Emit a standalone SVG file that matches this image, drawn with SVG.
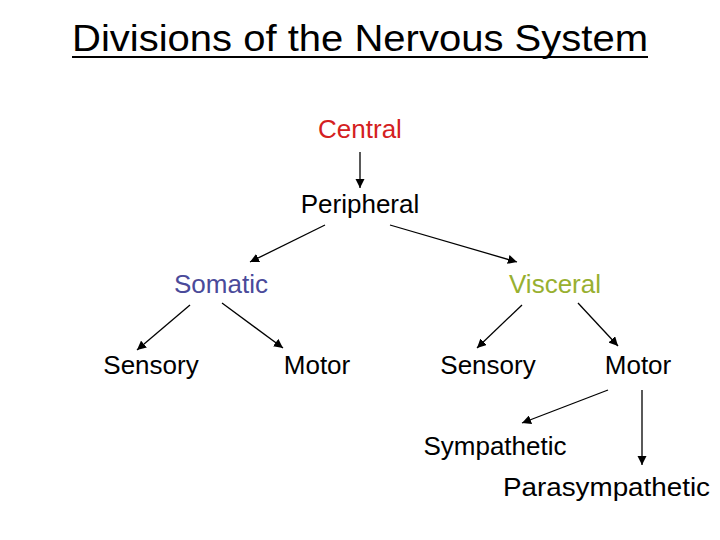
<svg xmlns="http://www.w3.org/2000/svg" width="720" height="540" viewBox="0 0 720 540">
<defs><marker id="a" viewBox="0 0 10 10" refX="10" refY="5" markerWidth="7" markerHeight="7" orient="auto"><path d="M0,0L10,5L0,10z" fill="#000"/></marker></defs>
<style>text{font-family:"Liberation Sans",Arial,sans-serif;font-size:26px;text-anchor:middle}line{stroke:#000;stroke-width:1.3;marker-end:url(#a)}</style>
<rect width="720" height="540" fill="#fff"/>
<g id="title"><text x="360" y="51" style="font-size:36px" textLength="576" lengthAdjust="spacingAndGlyphs">Divisions of the Nervous System</text><rect x="72" y="56" width="576" height="2" fill="#000"/></g>
<g id="central"><text x="360" y="138" fill="#d42020">Central</text></g>
<g id="peripheral"><text x="360" y="213">Peripheral</text></g>
<g id="somatic"><text x="221" y="293" fill="#4a4a9a">Somatic</text></g>
<g id="visceral"><text x="555" y="293" fill="#98b030">Visceral</text></g>
<g id="sensory1"><text x="151" y="374">Sensory</text></g>
<g id="motor1"><text x="317" y="374">Motor</text></g>
<g id="sensory2"><text x="488" y="374">Sensory</text></g>
<g id="motor2"><text x="638" y="374">Motor</text></g>
<g id="sympathetic"><text x="495" y="455">Sympathetic</text></g>
<g id="parasympathetic"><text x="503" y="496" style="text-anchor:start" textLength="207" lengthAdjust="spacingAndGlyphs">Parasympathetic</text></g>
<g id="connectors">
<line x1="360" y1="152" x2="360" y2="188"/>
<line x1="325" y1="225" x2="250" y2="262"/>
<line x1="390" y1="225" x2="517" y2="262"/>
<line x1="190" y1="305" x2="137" y2="350"/>
<line x1="222" y1="303" x2="283" y2="348"/>
<line x1="522" y1="305" x2="477" y2="348"/>
<line x1="578" y1="303" x2="618" y2="346"/>
<line x1="608" y1="390" x2="522" y2="423"/>
<line x1="642" y1="390" x2="642" y2="465"/>
</g>
</svg>
